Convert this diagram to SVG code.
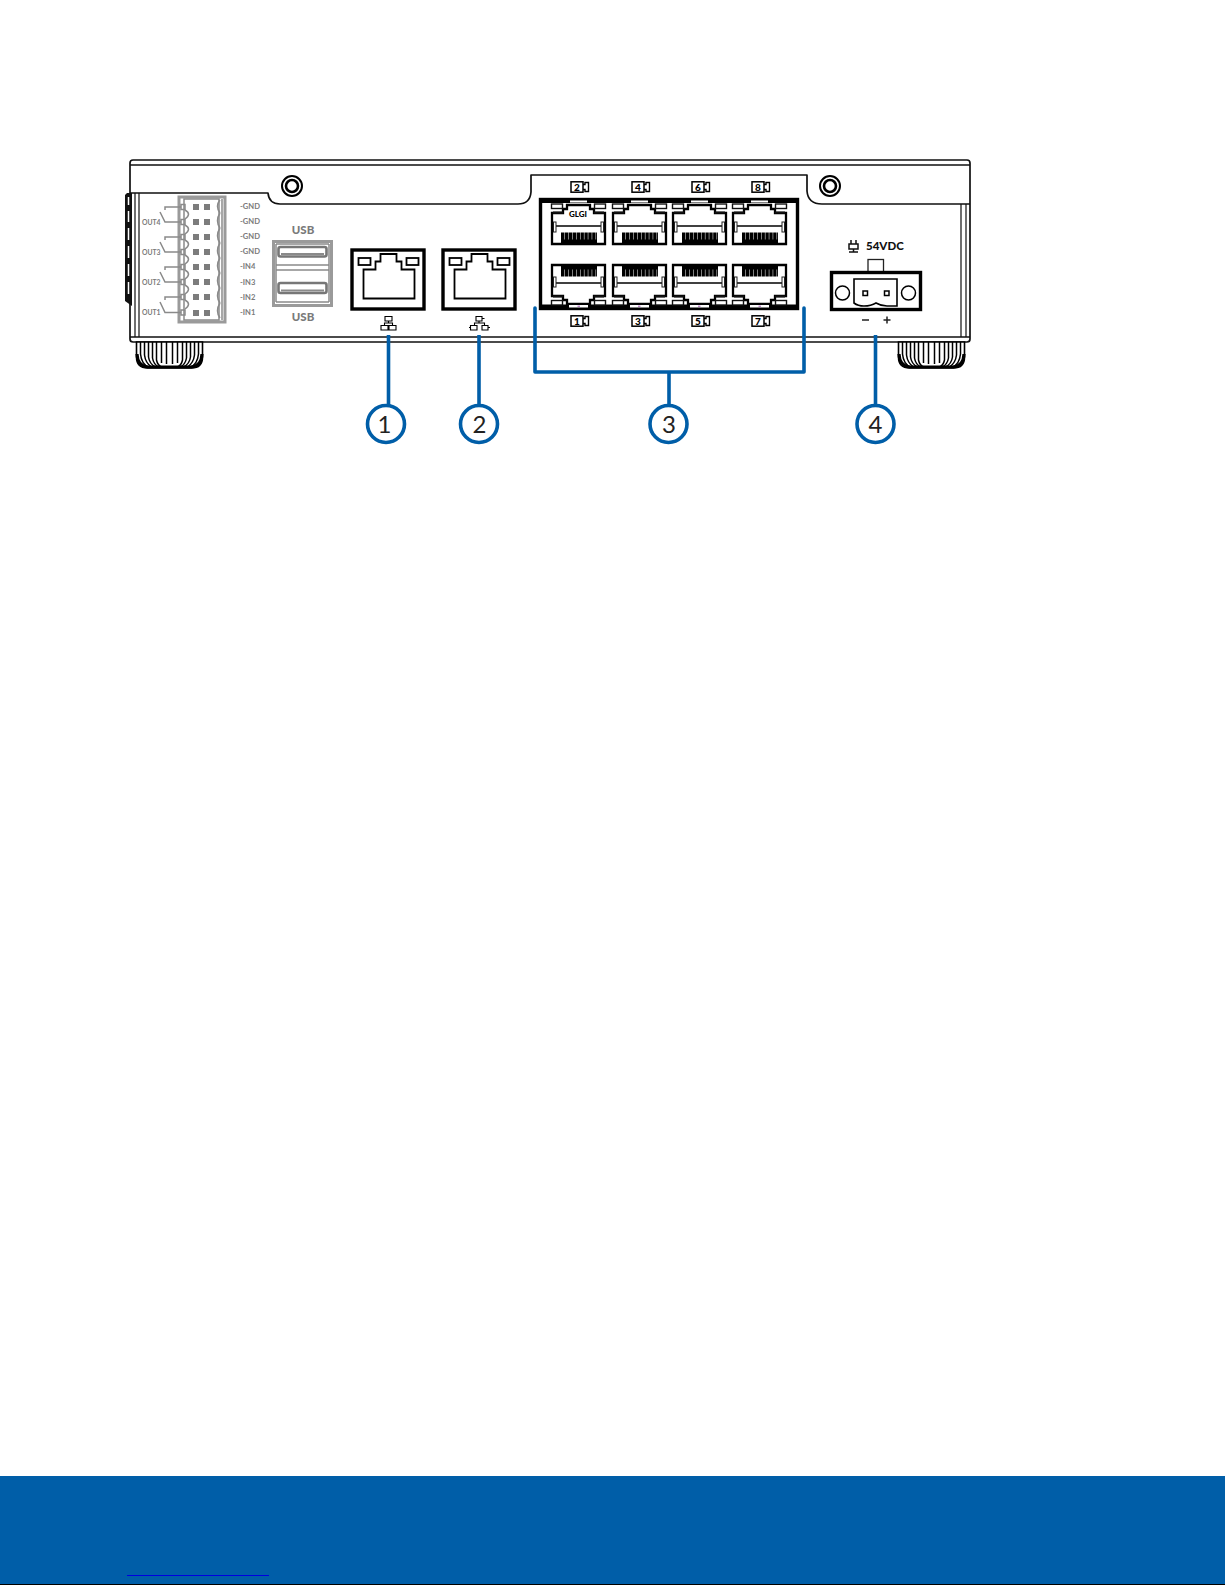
<svg xmlns="http://www.w3.org/2000/svg" width="1225" height="1585" viewBox="0 0 1225 1585">
<style>
.body{fill:none;stroke:#111;stroke-width:1.7;stroke-linejoin:round}
.thin{fill:none;stroke:#111;stroke-width:1.2}
.k{fill:none;stroke:#000;stroke-width:1.8}
.frame{fill:#fff;stroke:#000;stroke-width:3.4}
.g{fill:none;stroke:#8a8a8a;stroke-width:1.5}
.gf{fill:none;stroke:#9a9a9a;stroke-width:3}
.pin{fill:#7c7c7c}
.lab{font-family:"Lato","Liberation Sans",sans-serif;font-weight:700;fill:#7a7a7a;font-size:7.6px}
.out{font-family:"Lato","Liberation Sans",sans-serif;font-weight:700;fill:#7a7a7a;font-size:6.8px}
.usb{font-family:"Lato","Liberation Sans",sans-serif;font-weight:900;fill:#7a7a7a;font-size:11.5px;text-anchor:middle}
.dig{font-family:"Lato","Liberation Sans",sans-serif;font-weight:900;fill:#000;font-size:10px;text-anchor:middle}
.pw{font-family:"Lato","Liberation Sans",sans-serif;font-weight:900;fill:#111;font-size:11.5px}
.num{font-family:"Lato","Liberation Sans",sans-serif;fill:#222;font-size:24px;text-anchor:middle}
.lead{fill:none;stroke:#005ea8;stroke-width:3.6}
.ring{fill:#fff;stroke:#005ea8;stroke-width:3.6}
</style>
<defs>
<g id="port">
<path d="M1 41 V10 H12 V6 H16 V2 H39 V6 H43 V10 H54 V41 Z" fill="#fff" stroke="#000" stroke-width="2.300"/>
<rect x="0.500" y="1" width="11" height="4.500" fill="#fff" stroke="#111" stroke-width="1.400"/>
<rect x="43.500" y="1" width="11" height="4.500" fill="#fff" stroke="#111" stroke-width="1.400"/>
<path d="M2 9.500 H12 M43 9.500 H53" stroke="#111" stroke-width="2"/>
<path d="M5 23 H50" stroke="#000" stroke-width="1.600"/>
<rect x="2.500" y="19" width="2.500" height="10" fill="#fff" stroke="#222" stroke-width="1"/>
<rect x="50" y="19" width="2.500" height="10" fill="#fff" stroke="#222" stroke-width="1"/>
<path d="M10 35 H46" stroke="#000" stroke-width="11" stroke-dasharray="3.400 .5"/>
<path d="M10 38.500 H46" stroke="#000" stroke-width="4"/>
</g>
<g id="cam">
<rect x="-6" y="-5.200" width="12" height="10.400" fill="#fff" stroke="#000" stroke-width="1.500"/>
<path d="M6 -2.500 H8 V-4.500 H11.500 V4.500 H8 V2.500 H6" fill="none" stroke="#000" stroke-width="1.400"/>
</g>
<g id="rj">
<rect class="frame" x="1.500" y="1.500" width="72" height="59"/>
<path class="k" d="M13 21 H25 V13 H30 V5.500 H46 V13 H51 V21 H64 V50 H13 Z"/>
<rect class="k" x="8" y="9.500" width="12" height="7"/>
<rect class="k" x="56" y="9.500" width="12" height="7"/>
</g>
<g id="foot">
<path d="M0 0 H66 V15 Q66 26 55 26 H11 Q0 26 0 15 Z" fill="#fff" stroke="#000" stroke-width="1.600"/>
<path d="M4 0 V12 Q5 22 12 25 M8 0 V13 Q9 21 15 25 M12 0 V15 Q13 22 19 25 M16 0 V16 Q17 22 22 25 M20 0 V18 Q21 23 25 25 M25 0 V21 M30 0 V22 M36 0 V22 M41 0 V21 M46 0 V18 Q45 23 41 25 M50 0 V16 Q49 22 44 25 M54 0 V15 Q53 22 47 25 M58 0 V13 Q57 21 51 25 M62 0 V12 Q61 22 54 25" fill="none" stroke="#000" stroke-width="1.500"/>
<path d="M0.500 12 Q1 24 11 25 H55 Q65 24 65.500 12" fill="none" stroke="#000" stroke-width="3.200"/>
</g>
</defs>
<rect width="1225" height="1585" fill="#fff"/>

<g id="chassis">
<path class="body" d="M133 160 H967 Q970 160 970 163 V339 Q970 342 967 342 H133 Q130 342 130 339 V163 Q130 160 133 160 Z"/>
<path class="body" d="M130 165 H970 M130 337 H970"/>
<path class="body" d="M130 193 H268 Q269 204 280 204 H518 Q530 204 531 192 V175 H807 V191 Q808 204 822 204 H970"/>
<path class="thin" d="M135 193 V337 M139 193 V337 M961 204 V337 M966 204 V337"/>
<path d="M125 195 L127 193 H132 V306 L125 301 Z" fill="#111"/>
<path d="M128.500 197 V205 M128.500 211 V222 M128.500 228 V240 M128.500 246 V258 M128.500 264 V276 M128.500 282 V294" stroke="#fff" stroke-width="1.500" fill="none"/>
</g>
<g id="foot-left"><use href="#foot" x="136.500" y="342"/></g>
<g id="foot-right"><use href="#foot" x="898.500" y="342"/></g>
<g id="screw-left"><circle cx="292" cy="186" r="10" fill="#fff" stroke="#000" stroke-width="2"/><circle cx="292" cy="186" r="6" fill="#fff" stroke="#000" stroke-width="2.600"/></g>
<g id="screw-right"><circle cx="830" cy="186" r="10" fill="#fff" stroke="#000" stroke-width="2"/><circle cx="830" cy="186" r="6" fill="#fff" stroke="#000" stroke-width="2.600"/></g>

<g id="terminal">
<rect class="gf" x="179" y="197" width="46" height="125"/>
<path class="g" d="M184 199 H219 V320 H184 Z M222 199 V320"/>
<g fill="none" stroke="#8a8a8a" stroke-width="1.500">
<path d="M185 210 Q192 214 185 219 M185 225 Q192 229 185 234 M185 240 Q192 244 185 249 M185 255 Q192 259 185 264 M185 270 Q192 274 185 279 M185 285 Q192 289 185 294 M185 300 Q192 304 185 309"/>
<path d="M220 200 Q215 206 220 213 M220 213 Q215 221 220 228 M220 228 Q215 236 220 243 M220 243 Q215 251 220 258 M220 258 Q215 266 220 273 M220 273 Q215 281 220 288 M220 288 Q215 296 220 303 M220 303 Q215 311 220 318"/>
</g>
<g class="g">
<rect x="181" y="204.500" width="4" height="5"/><rect x="181" y="219.500" width="4" height="5"/><rect x="181" y="234.500" width="4" height="5"/><rect x="181" y="249.500" width="4" height="5"/><rect x="181" y="264.500" width="4" height="5"/><rect x="181" y="279.500" width="4" height="5"/><rect x="181" y="294.500" width="4" height="5"/><rect x="181" y="310" width="4" height="5"/>
</g>
<g class="pin">
<rect x="193" y="204" width="6" height="6"/><rect x="204" y="204" width="6" height="6"/>
<rect x="193" y="219" width="6" height="6"/><rect x="204" y="219" width="6" height="6"/>
<rect x="193" y="234" width="6" height="6"/><rect x="204" y="234" width="6" height="6"/>
<rect x="193" y="249" width="6" height="6"/><rect x="204" y="249" width="6" height="6"/>
<rect x="193" y="264" width="6" height="6"/><rect x="204" y="264" width="6" height="6"/>
<rect x="193" y="279" width="6" height="6"/><rect x="204" y="279" width="6" height="6"/>
<rect x="193" y="294" width="6" height="6"/><rect x="204" y="294" width="6" height="6"/>
<rect x="193" y="310" width="6" height="6"/><rect x="204" y="310" width="6" height="6"/>
</g>
<path class="g" d="M181 207 H165 V210 M160 212 L165 222 H181 M181 237 H165 V240 M160 242 L165 252 H181 M181 267 H165 V270 M160 272 L165 282 H181 M181 297 H165 V300 M160 302 L165 312.500 H181"/>
<text class="out" x="142" y="225">OUT4</text>
<text class="out" x="142" y="255">OUT3</text>
<text class="out" x="142" y="285">OUT2</text>
<text class="out" x="142" y="315">OUT1</text>
<text class="lab" x="240" y="209">-GND</text>
<text class="lab" x="240" y="224">-GND</text>
<text class="lab" x="240" y="239">-GND</text>
<text class="lab" x="240" y="254">-GND</text>
<text class="lab" x="240" y="269">-IN4</text>
<text class="lab" x="240" y="285">-IN3</text>
<text class="lab" x="240" y="300">-IN2</text>
<text class="lab" x="240" y="315">-IN1</text>
</g>

<g id="usb">
<rect class="gf" x="273.500" y="241.500" width="58" height="64"/>
<path class="g" d="M276 244 H329 M276 265 H329 M276 270 H329 M276 302 H329 M276 244 V302 M329 244 V302"/>
<rect x="278.500" y="247" width="48" height="9.500" rx="2" fill="#fff" stroke="#777" stroke-width="2.600"/>
<rect x="278.500" y="283" width="48" height="10" rx="2" fill="#fff" stroke="#777" stroke-width="2.600"/>
<path d="M281 254 H324 M281 290.500 H324" stroke="#8a8a8a" stroke-width="1.800" fill="none"/>
<text class="usb" x="303" y="234">USB</text>
<text class="usb" x="303" y="321">USB</text>
</g>

<g id="lan-1">
<use href="#rj" x="350.500" y="248.500"/>
<path fill="none" stroke="#000" stroke-width="1.100" d="M385 316.500 H392 V321 H385 Z M388.500 321 V323 M384.500 325.500 V323 H392.500 V325.500 M381 325.500 H388 V330 H381 Z M389 325.500 H396 V330 H389 Z"/>
</g>
<g id="lan-2">
<use href="#rj" x="441.500" y="248.500"/>
<path fill="none" stroke="#000" stroke-width="1.100" d="M476 316.500 H482 V321 H476 Z M482 318.500 H484.500 M479 321 V323 M474.500 325.500 V323 H484.500 V325.500 M470.500 325.500 H477 V330 H470.500 Z M470.500 327.500 H469 M482 325.500 H488 V330 H482 Z M488 327.500 H490"/>
</g>

<g id="camera-ports">
<rect class="frame" x="540.500" y="199.500" width="257" height="109"/>
<rect x="539" y="198" width="260" height="5" fill="#000"/>
<rect x="539" y="304.500" width="260" height="5.500" fill="#000"/>
<use href="#port" x="551" y="203"/>
<use href="#port" x="612" y="203"/>
<use href="#port" x="672" y="203"/>
<use href="#port" x="732" y="203"/>
<use href="#port" transform="translate(551 306) scale(1 -1)"/>
<use href="#port" transform="translate(612 306) scale(1 -1)"/>
<use href="#port" transform="translate(672 306) scale(1 -1)"/>
<use href="#port" transform="translate(732 306) scale(1 -1)"/>
<path d="M570 201.500 H587 M631 201.500 H648 M691 201.500 H708 M751 201.500 H768" stroke="#fff" stroke-width="1.800"/>
<path d="M569 306.200 H588 M630 306.200 H649 M690 306.200 H709 M750 306.200 H769" stroke="#fff" stroke-width="2.400"/>
<path d="M577.500 306.200 h2.500 M638 306.200 h2.500 M698 306.200 h2.500 M758.500 306.200 h2.500" stroke="#a050b0" stroke-width="1"/>
<text x="578" y="217" font-family="Lato,'Liberation Sans',sans-serif" font-weight="900" font-size="8" text-anchor="middle" fill="#000">GLGI</text>
</g>
<g id="camera-labels">
<use href="#cam" x="577" y="187"/><text class="dig" x="577" y="190.600">2</text>
<use href="#cam" x="638" y="187"/><text class="dig" x="638" y="190.600">4</text>
<use href="#cam" x="698" y="187"/><text class="dig" x="698" y="190.600">6</text>
<use href="#cam" x="758" y="187"/><text class="dig" x="758" y="190.600">8</text>
<use href="#cam" x="577" y="321"/><text class="dig" x="577" y="324.600">1</text>
<use href="#cam" x="638" y="321"/><text class="dig" x="638" y="324.600">3</text>
<use href="#cam" x="698" y="321"/><text class="dig" x="698" y="324.600">5</text>
<use href="#cam" x="758" y="321"/><text class="dig" x="758" y="324.600">7</text>
</g>

<g id="power">
<rect x="868" y="259.500" width="15.500" height="13" fill="#fff" stroke="#222" stroke-width="1.300"/>
<rect class="frame" x="831.500" y="272.500" width="89" height="37"/>
<circle cx="842.500" cy="293" r="7" fill="#fff" stroke="#000" stroke-width="1.500"/>
<circle cx="908.500" cy="293" r="7" fill="#fff" stroke="#000" stroke-width="1.500"/>
<path d="M854 279 H897 V306 H887 Q881 306 876 303 Q871 306 864 306 Q858 306 854 303 Z" fill="#fff" stroke="#000" stroke-width="1.600"/>
<rect x="863" y="291" width="4.500" height="4.500" fill="#fff" stroke="#000" stroke-width="1.500"/>
<rect x="884.500" y="291" width="4.500" height="4.500" fill="#fff" stroke="#000" stroke-width="1.500"/>
<path d="M851 240 V244 M856 240 V244 M849 244 H858 V249 H849 Z M853.500 249 V252 M849 252 H858" fill="none" stroke="#111" stroke-width="1.500"/>
<text class="pw" x="866" y="250">54VDC</text>
<path d="M862 320 H869 M883.500 320 H890.500 M887 316.500 V323.500" stroke="#222" stroke-width="1.500" fill="none"/>
</g>

<g id="connectors">
<path class="lead" d="M388.500 335 V406"/>
<path class="lead" d="M479 335 V406"/>
<path class="lead" stroke-linejoin="round" stroke-linecap="round" d="M535 308 V372 H804 V308 M669 372 V406"/>
<path class="lead" d="M875.500 335 V406"/>
</g>
<g id="callout-1"><circle class="ring" cx="386" cy="424" r="18.500"/><text class="num" x="384.500" y="432.500">1</text></g>
<g id="callout-2"><circle class="ring" cx="479" cy="424" r="18.500"/><text class="num" x="479.500" y="432.500">2</text></g>
<g id="callout-3"><circle class="ring" cx="668.500" cy="424" r="18.500"/><text class="num" x="669" y="432.500">3</text></g>
<g id="callout-4"><circle class="ring" cx="875.500" cy="424" r="18.500"/><text class="num" x="875.500" y="432.500">4</text></g>

<g id="footer">
<rect x="0" y="1476" width="1225" height="109" fill="#005ea8"/>
<rect x="127" y="1575" width="142" height="1" fill="#0000e0"/>
<rect x="0" y="1584" width="1225" height="1" fill="#000"/>
</g>
</svg>
